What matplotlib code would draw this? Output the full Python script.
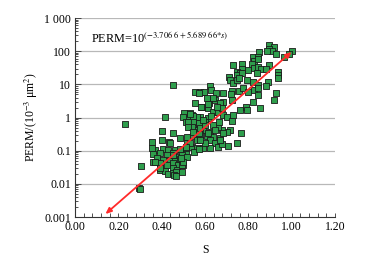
import numpy as np
import matplotlib
matplotlib.use("Agg")
import matplotlib.pyplot as plt
from matplotlib.ticker import FixedLocator, LogLocator, NullFormatter, FuncFormatter

plt.rcParams["font.family"] = ["Liberation Serif", "DejaVu Serif"]
plt.rcParams["mathtext.fontset"] = "stix"

# ---- data ----------------------------------------------------------------
S = [0.895, 0.92, 0.895, 0.91, 0.885, 0.93, 0.85, 1.0, 0.99, 0.965,
     0.82, 0.845, 0.825, 0.845, 0.73, 0.77, 0.815, 0.825, 0.845, 0.895,
     0.86, 0.88, 0.77, 0.75, 0.76, 0.75, 0.77, 0.80, 0.84, 0.935,
     0.935, 0.935, 0.71, 0.715, 0.73, 0.75, 0.755, 0.795, 0.82, 0.845,
     0.89, 0.88, 0.625, 0.63, 0.575, 0.595, 0.65, 0.685, 0.725, 0.72,
     0.755, 0.775, 0.80, 0.825, 0.845, 0.845, 0.93, 0.92, 0.82, 0.855,
     0.76, 0.79, 0.795, 0.725, 0.685, 0.645, 0.67, 0.62, 0.61, 0.635,
     0.555, 0.585, 0.615, 0.635, 0.66, 0.68, 0.685, 0.70, 0.725, 0.73,
     0.765, 0.715, 0.70, 0.68, 0.66, 0.665, 0.635, 0.615, 0.60, 0.575,
     0.565, 0.54, 0.52, 0.505, 0.50, 0.51, 0.545, 0.57, 0.565, 0.59,
     0.625, 0.575, 0.61, 0.635, 0.67, 0.545,
     0.415, 0.45, 0.40, 0.625, 0.645, 0.66, 0.355, 0.40, 0.435, 0.515,
     0.54, 0.565, 0.59, 0.625, 0.37, 0.405, 0.43, 0.46, 0.485, 0.51,
     0.36, 0.39, 0.425, 0.45, 0.47, 0.495, 0.515, 0.38, 0.405, 0.44,
     0.46, 0.485, 0.36, 0.39, 0.425, 0.45, 0.475, 0.39, 0.415, 0.45,
     0.47, 0.43, 0.45, 0.495,
     0.23, 0.355, 0.37, 0.39, 0.44, 0.45, 0.465, 0.455, 0.50, 0.51,
     0.515, 0.53, 0.54, 0.55, 0.565, 0.57, 0.305, 0.295, 0.30, 0.465,
     0.52, 0.53, 0.545, 0.57, 0.75, 0.705, 0.68, 0.67, 0.57, 0.51,
     0.495, 0.50, 0.49, 0.685, 0.60, 0.575,
     0.52, 0.545, 0.575, 0.60, 0.615, 0.645, 0.485, 0.53, 0.59, 0.63,
     0.58, 0.615, 0.655, 0.45, 0.555, 0.57]
PERM = [157, 137, 119, 103, 103, 84, 97, 100, 84, 68,
        68, 68, 52, 59, 39, 42, 42, 32, 34, 39,
        30, 30, 30, 24, 22, 19.5, 22, 28, 22, 24,
        19.5, 16, 17, 14, 11, 14, 16, 14, 12, 9.7,
        12, 9.1, 9.1, 6.9, 6.0, 6.0, 5.6, 5.6, 6.4, 5.2,
        6.4, 7.9, 6.0, 6.9, 7.9, 4.9, 5.6, 3.4, 3.0, 2.0,
        1.7, 2.1, 1.7, 3.4, 3.0, 3.4, 2.8, 2.8, 3.9, 3.9,
        2.8, 2.1, 2.0, 1.5, 1.5, 2.0, 1.2, 1.05, 0.79, 1.2,
        0.35, 0.42, 0.37, 0.42, 0.52, 0.74, 0.60, 0.98, 0.74, 1.05,
        1.05, 1.2, 1.05, 1.4, 1.05, 0.74, 0.74, 0.60, 0.42, 0.42,
        0.37, 0.30, 0.28, 0.26, 0.24, 0.28,
        1.05, 0.35, 0.40, 0.21, 0.17, 0.13, 0.18, 0.21, 0.18, 0.17,
        0.13, 0.12, 0.12, 0.12, 0.106, 0.11, 0.106, 0.106, 0.11, 0.092,
        0.080, 0.086, 0.075, 0.086, 0.065, 0.075, 0.065, 0.061, 0.053, 0.053,
        0.049, 0.056, 0.046, 0.043, 0.037, 0.043, 0.037, 0.026, 0.025, 0.030,
        0.026, 0.020, 0.021, 0.023,
        0.65, 0.12, 0.046, 0.030, 0.17, 0.075, 0.023, 0.019, 0.037, 0.12,
        0.26, 0.17, 0.52, 0.092, 0.21, 0.35, 0.035, 0.0075, 0.0070, 0.017,
        0.74, 1.4, 1.1, 0.69, 0.17, 0.14, 0.16, 0.21, 0.11, 0.13,
        0.037, 0.046, 0.061, 0.35, 0.17, 0.21,
        0.52, 0.37, 0.49, 0.60, 0.35, 0.42, 0.24, 1.3, 0.85, 1.1,
        2.1, 2.6, 2.1, 9.7, 6.0, 5.6]

# fitted relation PERM = 10^(a + b*S) and the S-range of the drawn line
fit_a = -3.7066
fit_b = 5.68966
fit_s = [0.14, 1.0]

x_ticks = [0.0, 0.2, 0.4, 0.6, 0.8, 1.0, 1.2]
y_ticks = [0.001, 0.01, 0.1, 1, 10, 100, 1000]
y_labels = ["0.001", "0.01", "0.1", "1", "10", "100", "1 000"]

# ---- figure ----------------------------------------------------------------
fig = plt.figure(figsize=(3.89, 2.59), dpi=100)
ax = fig.add_axes([0.193, 0.162, 0.668, 0.768])

ax.set_yscale("log")
ax.set_xlim(0, 1.2)
ax.set_ylim(0.001, 1000)

for v in y_ticks[1:]:
    ax.axhline(v, color="#b8b8b8", lw=0.9, zorder=0)

ax.scatter(S, PERM, marker="s", s=15, facecolor="#2e9e4c",
           edgecolor="#1a1a1a", linewidths=0.6, zorder=3)

p0 = 10 ** (fit_a + fit_b * fit_s[0])
p1 = 10 ** (fit_a + fit_b * fit_s[1])
ax.annotate("", xy=(fit_s[0], p0), xytext=(fit_s[1], p1),
            arrowprops=dict(arrowstyle="<|-|>,head_length=0.35,head_width=0.15",
                            color="#ff2a2a", lw=1.3, shrinkA=0, shrinkB=0),
            zorder=4)

ax.text(0.062, 0.905, "PERM=10$^{(-3.706\\ 6+5.689\\ 66{*}s)}$",
        transform=ax.transAxes, fontsize=8.8, va="center", ha="left")

for sp in ["top", "right"]:
    ax.spines[sp].set_visible(False)
for sp in ["left", "bottom"]:
    ax.spines[sp].set_color("#333333")
    ax.spines[sp].set_linewidth(0.8)

ax.xaxis.set_major_locator(FixedLocator(x_ticks))
ax.xaxis.set_minor_locator(FixedLocator(np.arange(0, 1.2001, 0.04)))
ax.xaxis.set_major_formatter(FuncFormatter(lambda v, p: f"{v:.2f}"))
ax.yaxis.set_major_locator(FixedLocator(y_ticks))
ax.yaxis.set_major_formatter(FuncFormatter(
    lambda v, p: y_labels[int(round(np.log10(v))) + 3]))
ax.yaxis.set_minor_locator(LogLocator(base=10, subs=np.arange(2, 10)))
ax.yaxis.set_minor_formatter(NullFormatter())

ax.tick_params(axis="both", which="both", direction="in", color="#333333",
               labelsize=8.5, width=0.6, pad=3)
ax.tick_params(axis="x", which="major", length=3)
ax.tick_params(axis="x", which="minor", length=3)
ax.tick_params(axis="y", which="major", length=4)
ax.tick_params(axis="y", which="minor", length=2.5)

ax.set_xlabel("S", fontsize=8.5, labelpad=8)
ax.set_ylabel("PERM/(10$^{-3}$ μm$^{2}$)", fontsize=8.5, labelpad=3)

fig.savefig("out.png", dpi=100)
